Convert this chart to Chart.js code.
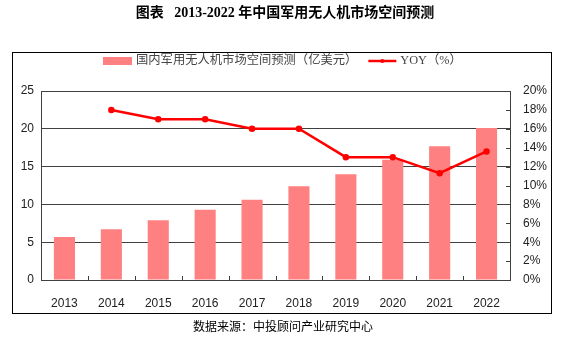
<!DOCTYPE html>
<html>
<head>
<meta charset="utf-8">
<script src="https://cdn.jsdelivr.net/npm/chart.js@4/dist/chart.umd.min.js"></script>
<style>
  html, body { margin: 0; padding: 0; background: #fff; }
  canvas { display: block; }
</style>
</head>
<body>
<canvas id="uavChart" width="568" height="351"></canvas>
<script>
// data
const years = ['2013', '2014', '2015', '2016', '2017', '2018', '2019', '2020', '2021', '2022'];
const marketSize = [5.7, 6.7, 7.9, 9.3, 10.6, 12.4, 14.0, 15.9, 17.7, 20.1];   // 亿美元
const yoy = [null, 18, 17, 17, 16, 16, 13, 13, 11.3, 13.6];                     // %

const titleText = '图表   2013-2022 年中国军用无人机市场空间预测';
const sourceText = '数据来源：中投顾问产业研究中心';

// frame, title, legend, source and the little inner tick marks
const decorPlugin = {
    id: 'decor',
    afterDraw(chart) {
        const ctx = chart.ctx;
        const area = chart.chartArea;
        ctx.save();

        // title
        ctx.fillStyle = '#000';
        ctx.font = "bold 14px 'Liberation Serif', 'Noto Sans CJK SC'";
        ctx.textAlign = 'center';
        ctx.textBaseline = 'middle';
        ctx.fillText(titleText, 285, 13);

        // outer box
        ctx.strokeStyle = '#000';
        ctx.lineWidth = 1;
        ctx.strokeRect(12.5, 52.5, 539, 261);

        // source
        ctx.font = "12px 'Noto Sans CJK SC'";
        ctx.fillText(sourceText, 283, 326);

        // legend
        const bars = chart.data.datasets[1];
        const line = chart.data.datasets[0];
        ctx.textAlign = 'left';
        ctx.font = "12.3px 'Liberation Serif', 'Noto Sans CJK SC'";
        ctx.fillStyle = bars.backgroundColor;
        let x = 103;
        ctx.fillRect(x, 57, 29, 8);
        x += 33;
        ctx.fillStyle = '#444';
        ctx.fillText(bars.label, x, 61);
        x += ctx.measureText(bars.label).width + 11;
        ctx.strokeStyle = line.borderColor;
        ctx.lineWidth = 2.5;
        ctx.beginPath();
        ctx.moveTo(x, 61);
        ctx.lineTo(x + 28, 61);
        ctx.stroke();
        ctx.fillStyle = line.borderColor;
        ctx.beginPath();
        ctx.arc(x + 14, 61, 2, 0, Math.PI * 2);
        ctx.fill();
        x += 32;
        ctx.fillStyle = '#444';
        ctx.fillText(line.label, x, 61);

        // inner tick marks on the x axis (between categories) and the right axis
        ctx.strokeStyle = '#404040';
        ctx.lineWidth = 1;
        const xs = chart.scales.x;
        const half = (xs.getPixelForValue(1) - xs.getPixelForValue(0)) / 2;
        ctx.beginPath();
        for (let i = 0; i < years.length - 1; i++) {
            const px = Math.round(xs.getPixelForValue(i) + half) + 0.5;
            ctx.moveTo(px, area.bottom);
            ctx.lineTo(px, area.bottom - 4);
        }
        const ys = chart.scales.y1;
        for (let v = 0; v <= 20; v += 2) {
            const py = Math.round(ys.getPixelForValue(v)) + 0.5;
            ctx.moveTo(area.right, py);
            ctx.lineTo(area.right - 4, py);
        }
        ctx.stroke();

        ctx.restore();
    }
};

const tickFont = { family: "'Liberation Sans', Arial", size: 12 };

new Chart(document.getElementById('uavChart').getContext('2d'), {
    type: 'bar',
    data: {
        labels: years,
        datasets: [
            {
                type: 'line',
                label: 'YOY（%）',
                data: yoy,
                yAxisID: 'y1',
                borderColor: '#ff0000',
                backgroundColor: '#ff0000',
                borderWidth: 2.5,
                pointRadius: 2,
                pointHoverRadius: 2,
                tension: 0,
                order: 0
            },
            {
                label: '国内军用无人机市场空间预测（亿美元）',
                data: marketSize,
                yAxisID: 'y',
                backgroundColor: '#ff8080',
                barPercentage: 0.45,
                categoryPercentage: 1,
                order: 1
            }
        ]
    },
    options: {
        responsive: false,
        devicePixelRatio: 1,
        animation: false,
        layout: { padding: { top: 91, left: 0, right: 0, bottom: 41 } },
        plugins: {
            legend: { display: false },
            title: { display: false },
            tooltip: { enabled: false }
        },
        scales: {
            x: {
                grid: { display: false },
                border: { display: true, color: '#404040' },
                ticks: { font: tickFont, color: '#222', padding: 8 },
                afterFit(scale) { scale.height = 30; }
            },
            y: {
                position: 'left',
                min: 0,
                max: 25,
                ticks: { stepSize: 5, font: tickFont, color: '#222', padding: 7 },
                grid: { color: '#404040', drawTicks: false },
                border: { display: true, color: '#404040' },
                afterFit(scale) { scale.width = 41; }
            },
            y1: {
                position: 'right',
                min: 0,
                max: 20,
                ticks: {
                    stepSize: 2,
                    font: tickFont,
                    color: '#222',
                    padding: 13,
                    callback: v => v + '%'
                },
                grid: { drawOnChartArea: false, drawTicks: false },
                border: { display: true, color: '#404040' },
                afterFit(scale) { scale.width = 58; }
            }
        }
    },
    plugins: [decorPlugin]
});
</script>
</body>
</html>
